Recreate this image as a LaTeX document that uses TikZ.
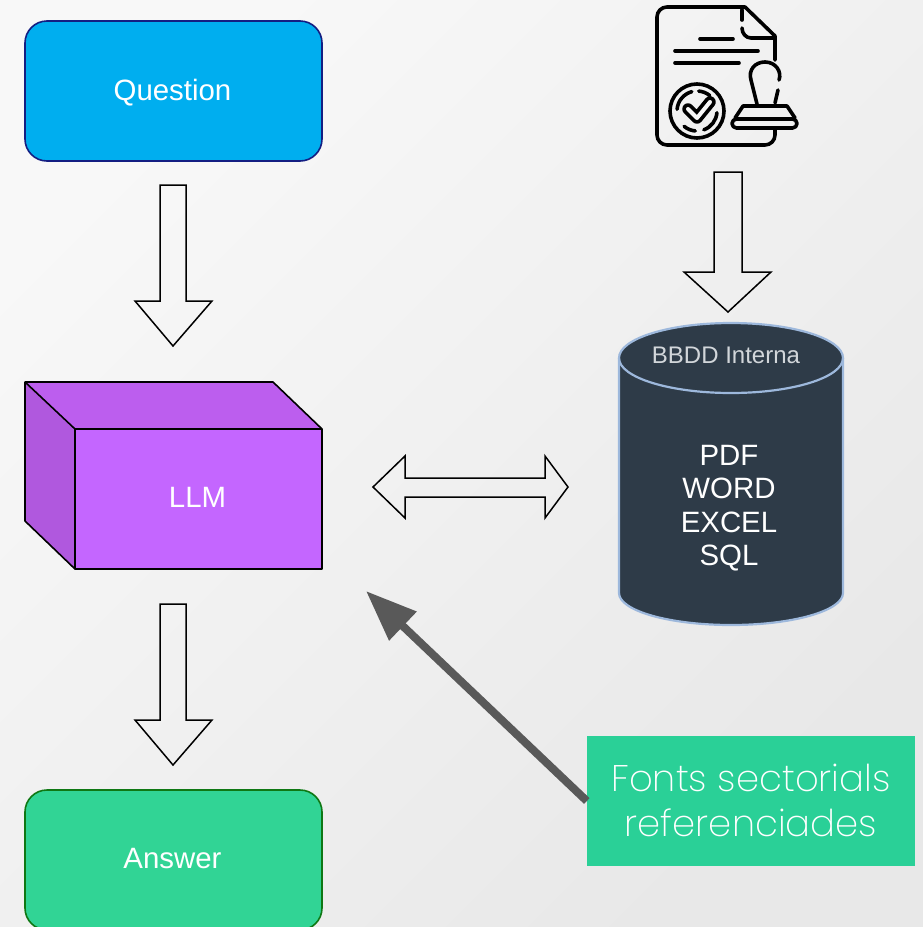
\documentclass[tikz,border=0pt]{standalone}
\usepackage{fontspec}
\setmainfont{Liberation Sans}
\newfontfamily\lightf[UprightFont=* ExtraLight]{Poppins}
\usetikzlibrary{arrows.meta}
\definecolor{bgA}{HTML}{F8F8F8}
\definecolor{bgB}{HTML}{E8E8E8}
\definecolor{dbfill}{HTML}{2E3B48}
\definecolor{dbline}{HTML}{9DB8DC}
\definecolor{qfill}{RGB}{0,174,239}
\definecolor{qline}{RGB}{20,30,130}
\definecolor{afill}{RGB}{49,212,149}
\definecolor{aline}{RGB}{15,120,20}
\definecolor{cubefront}{RGB}{196,102,255}
\definecolor{cubetop}{RGB}{188,94,238}
\definecolor{cubeside}{RGB}{176,88,222}
\definecolor{titlegrey}{RGB}{210,214,218}
\definecolor{fontsfill}{RGB}{42,208,151}
\tikzset{
  flowbox/.style={draw,rounded corners=22pt,line width=1.6pt,minimum width=297pt,minimum height=140pt,text=white,inner sep=0pt,font=\fontsize{29.4}{33}\selectfont},
  blockarrow/.style={draw=black,line width=1.5pt,fill=none,line join=miter},
  icon/.style={draw=black,line width=3.6pt,line cap=round,line join=round,fill=none},
  dbtext/.style={text=white,align=center,inner sep=0pt,font=\fontsize{29.4}{33.5}\selectfont},
  cube/.style={draw=black,line width=1.6pt,line join=round},
  pointer/.style={line width=8pt,-{Triangle[length=51pt,width=38pt]},color=black!65}
}
\begin{document}
\begin{tikzpicture}[x=1pt,y=-1pt]
\useasboundingbox (0,0) rectangle (923,927);
\shade[top color=bgA,bottom color=bgB,shading angle=45] (0,0) rectangle (923,927);

% Question and Answer
\node[flowbox,draw=qline,fill=qfill] (question) at (173.5,91) {\kern-2pt\raisebox{-2pt}[\height][\depth]{Question}};
\begin{scope}
\clip (0,700) rectangle (923,927);
\node[flowbox,draw=aline,fill=afill] (answer) at (173.5,860) {\kern-2pt\raisebox{1pt}[\height][\depth]{Answer}};
\end{scope}

% LLM cuboid
\fill[cubetop] (25,382) -- (273,382) -- (322,429) -- (75,429) -- cycle;
\fill[cubeside] (25,382) -- (75,429) -- (75,569) -- (25,521) -- cycle;
\node[cube,fill=cubefront,minimum width=247pt,minimum height=140pt,inner sep=0pt,text=white,font=\fontsize{29.4}{33}\selectfont] (llm) at (198.5,499) {\kern-2pt\raisebox{2pt}[\height][\depth]{LLM}};
\draw[cube] (75,429) -- (25,382) -- (273,382) -- (322,429);
\draw[cube] (25,382) -- (25,521) -- (75,569);

% Block arrows
\draw[blockarrow] (160,185) -- (186,185) -- (186,301) -- (212,301) -- (173,346) -- (135,301) -- (160,301) -- cycle;
\draw[blockarrow] (160,604) -- (186,604) -- (186,720) -- (212,720) -- (173,765) -- (135,720) -- (160,720) -- cycle;
\draw[blockarrow] (714,172) -- (742,172) -- (742,272) -- (771,272) -- (728,312) -- (684,272) -- (714,272) -- cycle;
\draw[blockarrow] (373,487) -- (405,456) -- (405,478) -- (545,478) -- (545,456) -- (568,487) -- (545,518) -- (545,497) -- (405,497) -- (405,518) -- cycle;

% Database cylinder
\draw[dbline,fill=dbfill,line width=2.2pt] (619,358) -- (619,593) arc[start angle=180,end angle=360,x radius=112pt,y radius=32pt] -- (843,358) arc[start angle=0,end angle=180,x radius=112pt,y radius=35pt] -- cycle;
\draw[dbline,line width=2.2pt] (619,358) arc[start angle=180,end angle=360,x radius=112pt,y radius=35pt];
\node[text=titlegrey,inner sep=0pt,font=\fontsize{24}{28}\selectfont] (dbtitle) at (726,355) {BBDD Interna};
\node[dbtext] (dbtypes) at (729,508) {PDF\\WORD\\EXCEL\\SQL};

% Fonts box and pointer
\node[fill=fontsfill,minimum width=328pt,minimum height=130pt,inner sep=0pt,text=white,align=center,font=\lightf\fontsize{37}{45}\selectfont] (fonts) at (751,801) {\raisebox{1pt}[\height][\depth]{Fonts sectorials}\\\raisebox{1pt}[\height][\depth]{referenciades}};
\coordinate (target) at (366,591);
\draw[pointer] (fonts.west) -- (target);

% Document icon
\draw[icon] (775,60) -- (775,36) -- (745,7) -- (667,7) to[out=180,in=90] (657,17) -- (657,135) to[out=-90,in=180] (667,145) -- (765,145) to[out=0,in=-90] (775,135) -- (775,129);
\draw[icon] (742,10) -- (742,20);
\draw[icon] (742,28) to[out=-90,in=180] (751,38) -- (774,38);
\draw[icon] (700,39) -- (733,39);
\draw[icon] (675,51) -- (758,51);
\draw[icon] (675,63) -- (739,63);
% stamp
\draw[icon] (757,104) -- (751,80) .. controls (748,70) and (755,62) .. (765,62) .. controls (776,62) and (782,72) .. (779,80);
\draw[icon] (778,90) -- (775,103);
\draw[icon] (735,118) -- (743,106) -- (787,106) -- (795,118);
\draw[icon,rounded corners=4.5pt] (732,119) rectangle (797,128);
% seal
\coordinate (seal) at (697,111);
\draw[icon] (seal) circle[radius=27pt];
\draw[icon] (seal) ++(175:20pt) arc[start angle=175,end angle=105,radius=20pt];
\draw[icon] (seal) ++(85:20pt) arc[start angle=85,end angle=50,radius=20pt];
\draw[icon] (seal) ++(-5:20pt) arc[start angle=-5,end angle=-70,radius=20pt];
\draw[icon] (seal) ++(-95:20pt) arc[start angle=-95,end angle=-130,radius=20pt];
\draw[line width=11.5pt,line cap=round,line join=round,draw=black] (688,109) -- (697,118) -- (710,102);
\draw[line width=4pt,line cap=round,line join=round,draw=bgA] (688,109) -- (697,118) -- (710,102);
\end{tikzpicture}
\end{document}
